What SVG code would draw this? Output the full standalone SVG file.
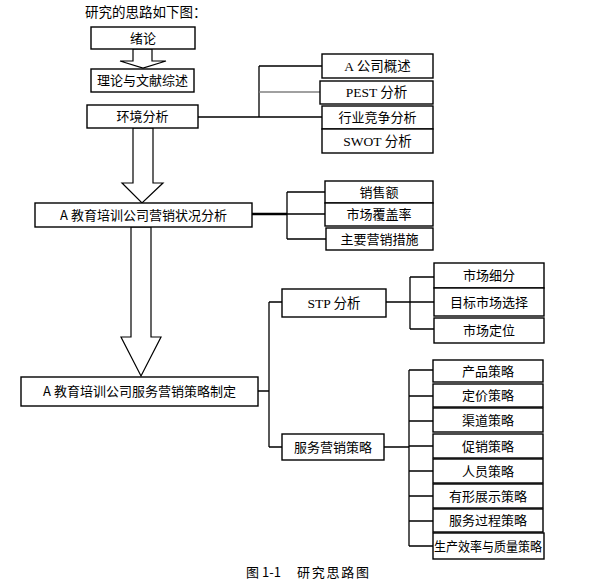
<svg xmlns="http://www.w3.org/2000/svg" width="593" height="587" viewBox="0 0 593 587">
<style>
.box{fill:#fff;stroke:#000;stroke-width:1.4}
.t{font-family:"Noto Sans CJK SC","Liberation Sans",sans-serif;font-size:13px;fill:#000;text-anchor:middle}
.ts{font-family:"Liberation Serif","Noto Sans CJK SC",serif;font-size:13.5px;fill:#000;text-anchor:middle}
.ln{stroke:#000;stroke-width:1.3;fill:none}
.arr{fill:#fff;stroke:#000;stroke-width:1.2;stroke-linejoin:miter}
.cap{font-family:"Noto Sans CJK SC",sans-serif;font-size:13px;fill:#000}
</style>
<rect width="593" height="587" fill="#fff"/>
<text x="85" y="17" font-family="'Noto Sans CJK SC',sans-serif" font-size="13.5" fill="#000">研究的思路如下图：</text>

<g id="connectors">
<polygon class="arr" points="133,49 152,49 152,61 166,61 143,68 120,61 133,61"/>
<polygon class="arr" points="133,128 153,128 153,183 163,183 142,203 122,183 133,183"/>
<polygon class="arr" points="131,227 151,227 151,337 161,337 141,376 121,337 131,337"/>
<path class="ln" d="M198,117H259M259,66V117M259,66H322M259,117H322"/>
<path d="M259,92H320" stroke="#808080" stroke-width="1.5"/>
<path d="M252,214H287" stroke="#000" stroke-width="2.6"/>
<path class="ln" d="M287,192V239M287,192H325M287,214H325M287,239H326"/>
<path class="ln" d="M258,391H269M269,302V447M269,302H282M269,447H282"/>
<path class="ln" d="M386,302H434M410,277V329M410,277H434M410,329H434"/>
<path class="ln" d="M384,447H409M409,370V546M409,370H433M409,396H433M409,421H433M409,446H433M409,471H433M409,496H433M409,521H433M409,546H433"/>
</g>

<g id="n-xulun"><rect class="box" x="91" y="27" width="104" height="22"/><text class="t" x="143" y="43">绪论</text></g>
<g id="n-lilun"><rect class="box" x="91" y="69" width="103" height="23"/><text class="t" x="142.5" y="85">理论与文献综述</text></g>
<g id="n-huanjing"><rect class="box" x="87" y="105" width="111" height="23"/><text class="t" x="142.5" y="121">环境分析</text></g>

<g id="n-gaishu"><rect class="box" x="322" y="54" width="111" height="24"/><text class="ts" x="377.5" y="71">A 公司概述</text></g>
<g id="n-pest"><rect class="box" x="320" y="81" width="113" height="23"/><text class="ts" x="376.5" y="97">PEST 分析</text></g>
<g id="n-hangye"><rect class="box" x="322" y="106" width="111" height="23"/><text class="t" x="377.5" y="122">行业竞争分析</text></g>
<g id="n-swot"><rect class="box" x="322" y="129" width="111" height="24"/><text class="ts" x="377.5" y="146">SWOT 分析</text></g>

<g id="n-zhuangkuang"><rect class="box" x="35" y="203" width="217" height="24"/><text class="t" x="143.5" y="220">A 教育培训公司营销状况分析</text></g>
<g id="n-xiaoshou"><rect class="box" x="325" y="181" width="108" height="22"/><text class="t" x="379" y="197">销售额</text></g>
<g id="n-fugai"><rect class="box" x="325" y="203" width="108" height="23"/><text class="t" x="379" y="219">市场覆盖率</text></g>
<g id="n-cuoshi"><rect class="box" x="326" y="228" width="107" height="22"/><text class="t" x="379.5" y="244">主要营销措施</text></g>

<g id="n-zhiding"><rect class="box" x="21" y="377" width="237" height="29"/><text class="t" x="139.5" y="396">A 教育培训公司服务营销策略制定</text></g>
<g id="n-stp"><rect class="box" x="282" y="289" width="104" height="28"/><text class="ts" x="334" y="308">STP 分析</text></g>
<g id="n-fuwu"><rect class="box" x="282" y="434" width="102" height="26"/><text class="t" x="333" y="452">服务营销策略</text></g>

<g id="n-xifen"><rect class="box" x="434" y="263" width="110" height="25"/><text class="t" x="489" y="280">市场细分</text></g>
<g id="n-mubiao"><rect class="box" x="434" y="288" width="110" height="28"/><text class="t" x="489" y="307">目标市场选择</text></g>
<g id="n-dingwei"><rect class="box" x="434" y="318" width="110" height="25"/><text class="t" x="489" y="335">市场定位</text></g>

<g id="n-chanpin"><rect class="box" x="433" y="360" width="110" height="22"/><text class="t" x="488" y="376">产品策略</text></g>
<g id="n-dingjia"><rect class="box" x="433" y="384" width="110" height="23"/><text class="t" x="488" y="400">定价策略</text></g>
<g id="n-qudao"><rect class="box" x="433" y="408" width="110" height="24"/><text class="t" x="488" y="425">渠道策略</text></g>
<g id="n-cuxiao"><rect class="box" x="433" y="434" width="110" height="24"/><text class="t" x="488" y="451">促销策略</text></g>
<g id="n-renyuan"><rect class="box" x="433" y="459" width="110" height="24"/><text class="t" x="488" y="476">人员策略</text></g>
<g id="n-youxing"><rect class="box" x="433" y="484" width="110" height="24"/><text class="t" x="488" y="501">有形展示策略</text></g>
<g id="n-guocheng"><rect class="box" x="433" y="509" width="110" height="23"/><text class="t" x="488" y="525">服务过程策略</text></g>
<g id="n-xiaolv"><rect class="box" x="433" y="533" width="111" height="26"/><text class="t" x="488" y="551" textLength="108" lengthAdjust="spacingAndGlyphs">生产效率与质量策略</text></g>

<text class="cap" y="577"><tspan x="246">图 1-1</tspan><tspan x="297" textLength="72" lengthAdjust="spacing">研究思路图</tspan></text>
</svg>
